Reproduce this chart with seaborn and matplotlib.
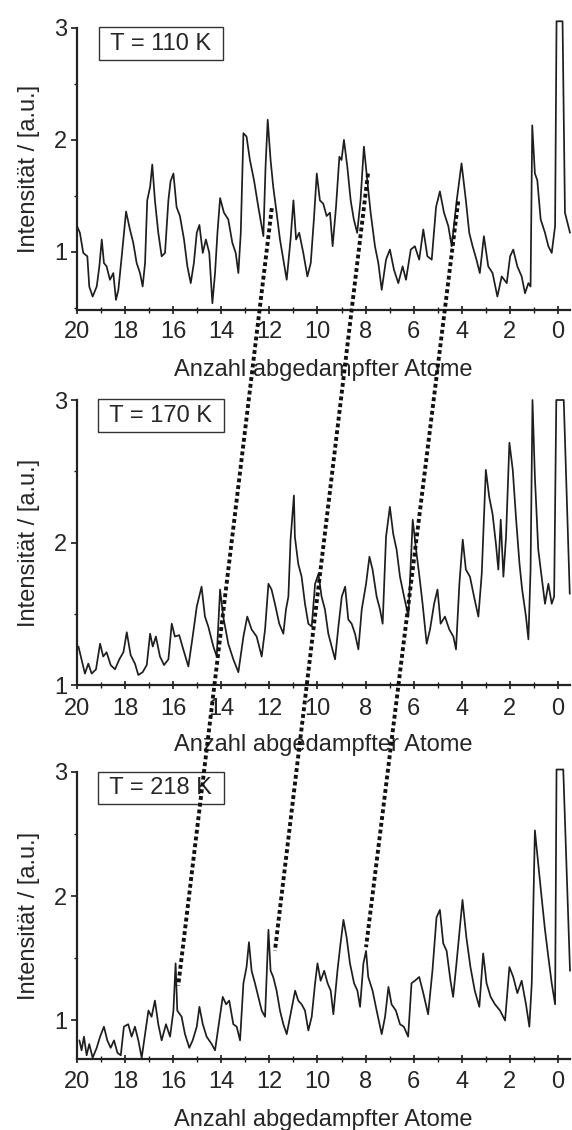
import matplotlib
matplotlib.use("Agg")
import matplotlib.pyplot as plt
from matplotlib.patches import ConnectionPatch
from matplotlib.ticker import MultipleLocator
import seaborn as sns
import pandas as pd

# ---------------- data ----------------
x_110 = [20.0, 19.88, 19.74, 19.57, 19.49, 19.35, 19.18, 19.07, 18.97, 18.88, 18.77, 18.63, 18.49, 18.38,
         18.28, 18.14, 17.96, 17.80, 17.66, 17.52, 17.38, 17.27, 17.17, 17.08, 16.96, 16.87, 16.76, 16.62,
         16.48, 16.34, 16.20, 16.11, 15.99, 15.86, 15.72, 15.55, 15.41, 15.27, 15.14, 15.02, 14.91, 14.77,
         14.64, 14.50, 14.37, 14.26, 14.16, 14.05, 13.89, 13.71, 13.54, 13.40, 13.29, 13.19, 13.08, 12.95,
         12.81, 12.64, 12.46, 12.25, 12.16, 12.07, 11.95, 11.84, 11.70, 11.56, 11.42, 11.28, 11.12, 11.0,
         10.89, 10.76, 10.59, 10.42, 10.28, 10.14, 10.03, 9.90, 9.76, 9.62, 9.48, 9.37, 9.23, 9.09, 9.0,
         8.90, 8.76, 8.62, 8.49, 8.35, 8.21, 8.07, 7.93, 7.79, 7.61, 7.47, 7.33, 7.15, 6.99, 6.82, 6.64,
         6.46, 6.32, 6.12, 5.95, 5.77, 5.60, 5.43, 5.25, 5.07, 4.91, 4.74, 4.56, 4.42, 4.21, 4.01, 3.83,
         3.69, 3.55, 3.39, 3.25, 3.08, 2.90, 2.72, 2.52, 2.34, 2.13, 1.99, 1.86, 1.69, 1.51, 1.37, 1.23,
         1.14, 1.07, 0.96, 0.86, 0.72, 0.54, 0.40, 0.26, 0.12, 0.06, -0.19, -0.29, -0.43, -0.50]
y_110 = [1.23, 1.17, 0.99, 0.96, 0.69, 0.60, 0.69, 0.87, 1.11, 0.90, 0.87, 0.75, 0.81, 0.57,
         0.66, 0.96, 1.36, 1.20, 1.08, 0.90, 0.81, 0.69, 0.90, 1.46, 1.58, 1.78, 1.46, 1.17,
         0.96, 0.99, 1.46, 1.63, 1.70, 1.40, 1.32, 1.11, 0.87, 0.72, 0.90, 1.17, 1.24, 0.99,
         1.11, 0.99, 0.54, 0.81, 1.17, 1.48, 1.35, 1.29, 1.08, 0.99, 0.81, 1.17, 2.06, 2.03,
         1.82, 1.64, 1.40, 1.14, 1.76, 2.18, 1.82, 1.58, 1.35, 1.11, 0.93, 0.75, 1.11, 1.46,
         1.11, 1.17, 0.99, 0.78, 0.90, 1.32, 1.70, 1.46, 1.43, 1.32, 1.35, 1.05, 1.40, 1.85, 1.82,
         2.00, 1.76, 1.46, 1.29, 1.17, 1.46, 1.94, 1.64, 1.35, 1.05, 0.90, 0.66, 0.93, 1.02, 0.84, 0.72,
         0.87, 0.75, 1.02, 1.05, 0.93, 1.20, 0.96, 0.93, 1.40, 1.54, 1.35, 1.23, 1.05, 1.46, 1.79, 1.46,
         1.17, 1.05, 0.93, 0.81, 1.14, 0.87, 0.81, 0.60, 0.78, 0.72, 0.96, 1.02, 0.87, 0.78, 0.63, 0.72,
         0.69, 2.13, 1.70, 1.64, 1.29, 1.17, 1.05, 0.99, 1.23, 3.06, 3.06, 1.35, 1.23, 1.17]

x_170 = [19.94, 19.81, 19.67, 19.53, 19.39, 19.21, 19.04, 18.91, 18.77, 18.60, 18.42, 18.24, 18.07, 17.93,
         17.77, 17.59, 17.45, 17.27, 17.10, 16.96, 16.85, 16.72, 16.55, 16.38, 16.20, 16.06, 15.93, 15.75,
         15.58, 15.37, 15.19, 15.02, 14.82, 14.68, 14.54, 14.33, 14.19, 14.05, 13.92, 13.71, 13.50, 13.29,
         13.08, 12.92, 12.74, 12.53, 12.32, 12.18, 12.04, 11.91, 11.77, 11.59, 11.42, 11.31, 11.21, 11.12,
         10.98, 10.94, 10.80, 10.66, 10.52, 10.38, 10.24, 10.10, 9.96, 9.83, 9.69, 9.55, 9.41, 9.27, 9.13,
         8.99, 8.85, 8.72, 8.58, 8.44, 8.30, 8.16, 7.98, 7.84, 7.71, 7.54, 7.40, 7.29, 7.15, 6.99, 6.85,
         6.71, 6.57, 6.40, 6.22, 6.04, 5.90, 5.76, 5.63, 5.46, 5.32, 5.15, 5.01, 4.88, 4.70, 4.52, 4.35,
         4.24, 4.10, 3.96, 3.83, 3.66, 3.49, 3.31, 3.17, 3.0, 2.86, 2.72, 2.58, 2.48, 2.38, 2.27, 2.16,
         2.02, 1.88, 1.74, 1.60, 1.49, 1.33, 1.23, 1.14, 1.06, 0.96, 0.82, 0.68, 0.54, 0.40, 0.26, 0.16,
         0.07, -0.24, -0.49]
y_170 = [1.27, 1.18, 1.08, 1.15, 1.08, 1.11, 1.29, 1.20, 1.23, 1.14, 1.11, 1.18, 1.23, 1.37,
         1.21, 1.15, 1.07, 1.09, 1.14, 1.36, 1.27, 1.34, 1.20, 1.14, 1.18, 1.43, 1.34, 1.35,
         1.25, 1.13, 1.34, 1.55, 1.69, 1.48, 1.41, 1.27, 1.20, 1.67, 1.48, 1.29, 1.18, 1.09,
         1.34, 1.48, 1.39, 1.34, 1.20, 1.39, 1.71, 1.67, 1.57, 1.43, 1.36, 1.53, 1.62, 2.02,
         2.33, 2.04, 1.85, 1.76, 1.57, 1.43, 1.41, 1.71, 1.78, 1.62, 1.53, 1.36, 1.27, 1.18, 1.41,
         1.62, 1.69, 1.46, 1.43, 1.36, 1.25, 1.53, 1.71, 1.90, 1.81, 1.62, 1.53, 1.43, 2.04, 2.25, 2.06,
         1.95, 1.76, 1.62, 1.48, 2.16, 1.95, 1.76, 1.57, 1.29, 1.39, 1.57, 1.67, 1.43, 1.48, 1.39, 1.34,
         1.25, 1.71, 2.02, 1.81, 1.76, 1.62, 1.48, 1.78, 2.51, 2.32, 2.20, 1.99, 1.81, 2.16, 1.76, 2.04,
         2.70, 2.51, 2.16, 1.85, 1.67, 1.48, 1.32, 1.81, 3.0, 2.46, 1.95, 1.76, 1.57, 1.71, 1.57, 1.62,
         3.0, 3.0, 1.64]

x_218 = [19.90, 19.81, 19.71, 19.60, 19.49, 19.35, 19.18, 19.04, 18.88, 18.74, 18.60, 18.46, 18.32, 18.18,
         18.05, 17.87, 17.73, 17.59, 17.45, 17.31, 17.17, 17.03, 16.90, 16.76, 16.62, 16.48, 16.30, 16.13,
         15.99, 15.90, 15.83, 15.65, 15.51, 15.33, 15.19, 15.02, 14.91, 14.77, 14.61, 14.40, 14.26, 14.12,
         13.94, 13.80, 13.67, 13.50, 13.36, 13.22, 13.08, 12.95, 12.85, 12.74, 12.60, 12.46, 12.32, 12.18,
         12.04, 11.95, 11.84, 11.70, 11.56, 11.42, 11.28, 11.14, 10.93, 10.80, 10.66, 10.52, 10.38, 10.24,
         10.10, 10.0, 9.87, 9.72, 9.58, 9.45, 9.34, 9.17, 9.06, 8.92, 8.79, 8.65, 8.48, 8.34, 8.23, 8.09,
         7.98, 7.89, 7.71, 7.54, 7.33, 7.19, 7.05, 6.92, 6.74, 6.57, 6.41, 6.23, 6.09, 5.95, 5.77, 5.60,
         5.40, 5.22, 5.05, 4.91, 4.77, 4.63, 4.47, 4.36, 4.22, 3.97, 3.81, 3.64, 3.46, 3.27, 3.11, 2.97,
         2.80, 2.62, 2.41, 2.20, 2.02, 1.86, 1.69, 1.51, 1.33, 1.19, 1.09, 0.96, 0.82, 0.68, 0.54, 0.40,
         0.26, 0.12, 0.06, -0.22, -0.50]
y_218 = [0.84, 0.76, 0.87, 0.72, 0.81, 0.70, 0.78, 0.87, 0.95, 0.84, 0.78, 0.84, 0.74, 0.72,
         0.95, 0.97, 0.87, 0.95, 0.84, 0.70, 0.89, 1.08, 1.03, 1.16, 0.97, 0.84, 0.97, 0.87,
         1.08, 1.46, 1.08, 1.03, 0.89, 0.78, 0.84, 0.95, 1.11, 0.97, 0.87, 0.81, 0.76, 0.95,
         1.19, 1.13, 1.16, 0.97, 0.95, 0.84, 1.30, 1.43, 1.63, 1.40, 1.30, 1.19, 1.08, 1.03,
         1.73, 1.40, 1.35, 1.24, 1.08, 0.97, 0.89, 1.03, 1.24, 1.16, 1.13, 1.08, 0.92, 1.03,
         1.30, 1.46, 1.32, 1.40, 1.30, 1.24, 1.05, 1.40, 1.59, 1.81, 1.67, 1.46, 1.30, 1.24, 1.11, 1.46,
         1.56, 1.35, 1.24, 1.08, 0.89, 1.03, 1.27, 1.13, 1.08, 0.97, 0.95, 0.87, 1.30, 1.32, 1.35, 1.22,
         1.05, 1.40, 1.83, 1.89, 1.62, 1.56, 1.32, 1.19, 1.46, 1.97, 1.67, 1.43, 1.24, 1.11, 1.54, 1.30,
         1.19, 1.13, 1.08, 1.00, 1.43, 1.35, 1.22, 1.32, 1.13, 0.95, 1.30, 2.53, 2.26, 1.99, 1.73, 1.51,
         1.30, 1.13, 3.02, 3.02, 1.40]

panel_labels = ["T = 110 K", "T = 170 K", "T = 218 K"]
y_bottoms = [0.48, 1.0, 0.69]
x_ticks = [20, 18, 16, 14, 12, 10, 8, 6, 4, 2, 0]
y_ticks = [1, 2, 3]
x_label = "Anzahl abgedampfter Atome"
y_label = "Intensität / [a.u.]"

# guide lines (dotted): start in top panel, end in bottom panel (data coords)
guide_top_x = [11.9, 7.9, 4.15]
guide_top_y = [1.39, 1.70, 1.45]
guide_bot_x = [15.79, 11.77, 7.98]
guide_bot_y = [1.28, 1.56, 1.59]

# ---------------- style ----------------
sns.set_style("ticks")
plt.rcParams["font.family"] = ["Liberation Sans", "DejaVu Sans"]
TXT = "#262626"
plt.rcParams["text.color"] = TXT
plt.rcParams["axes.labelcolor"] = TXT
plt.rcParams["xtick.color"] = "#1a1a1a"
plt.rcParams["ytick.color"] = "#1a1a1a"
plt.rcParams["xtick.labelcolor"] = TXT
plt.rcParams["ytick.labelcolor"] = TXT

fig = plt.figure(figsize=(5.72, 11.30), dpi=100)
left, width = 77 / 572, 493 / 572
rects = [
    [left, 1 - 310 / 1130, width, 282 / 1130],
    [left, 1 - 685 / 1130, width, 285 / 1130],
    [left, 1 - 1059 / 1130, width, 287 / 1130],
]
series = [(x_110, y_110), (x_170, y_170), (x_218, y_218)]
tick_pads = [4.7, 6.4, 5.4]
label_pads = [12, 10, 12]
axes = []
for i, (rect, (xs, ys)) in enumerate(zip(rects, series)):
    ax = fig.add_axes(rect)
    df = pd.DataFrame({"x": xs, "y": ys})
    sns.lineplot(data=df, x="x", y="y", ax=ax, estimator=None, sort=False,
                 color="#1e1e1e", linewidth=1.25, clip_on=False)
    ax.set_xlim(20, -0.5)
    ax.set_ylim(y_bottoms[i], 3)
    for s in ("top", "right"):
        ax.spines[s].set_visible(False)
    for s in ("left", "bottom"):
        ax.spines[s].set_linewidth(1.6)
        ax.spines[s].set_color("#222222")
    ax.set_xticks(x_ticks)
    ax.set_xticklabels([str(t) for t in x_ticks])
    ax.xaxis.set_minor_locator(MultipleLocator(1))
    ax.set_yticks(y_ticks)
    ax.set_yticklabels([str(t) for t in y_ticks])
    ax.yaxis.set_minor_locator(MultipleLocator(0.5))
    ax.tick_params(axis="x", which="major", direction="inout", length=6, width=1.2,
                   labelsize=17, pad=tick_pads[i])
    ax.tick_params(axis="x", which="minor", direction="inout", length=4, width=1.0)
    ax.tick_params(axis="y", which="major", direction="out", length=4, width=1.2,
                   labelsize=17, pad=3)
    ax.tick_params(axis="y", which="minor", direction="out", length=2.5, width=1.0)
    ax.set_xlabel(x_label, fontsize=17, labelpad=label_pads[i])
    ax.set_ylabel(y_label, fontsize=17, labelpad=10)
    ax.text(0.17, 0.945, " " + panel_labels[i] + " ", transform=ax.transAxes,
            fontsize=17, ha="center", va="center",
            bbox=dict(boxstyle="square,pad=0.22", fc="white", ec="#333333", lw=1.0))
    ax.set_facecolor("none")
    axes.append(ax)

for xt, yt, xb, yb in zip(guide_top_x, guide_top_y, guide_bot_x, guide_bot_y):
    con = ConnectionPatch(xyA=(xt, yt), coordsA=axes[0].transData,
                          xyB=(xb, yb), coordsB=axes[2].transData,
                          color="#111111", linewidth=2.8, linestyle=(0, (1, 0.75)),
                          capstyle="butt", zorder=10)
    fig.add_artist(con)

fig.savefig("out.png", dpi=100, facecolor="white")
